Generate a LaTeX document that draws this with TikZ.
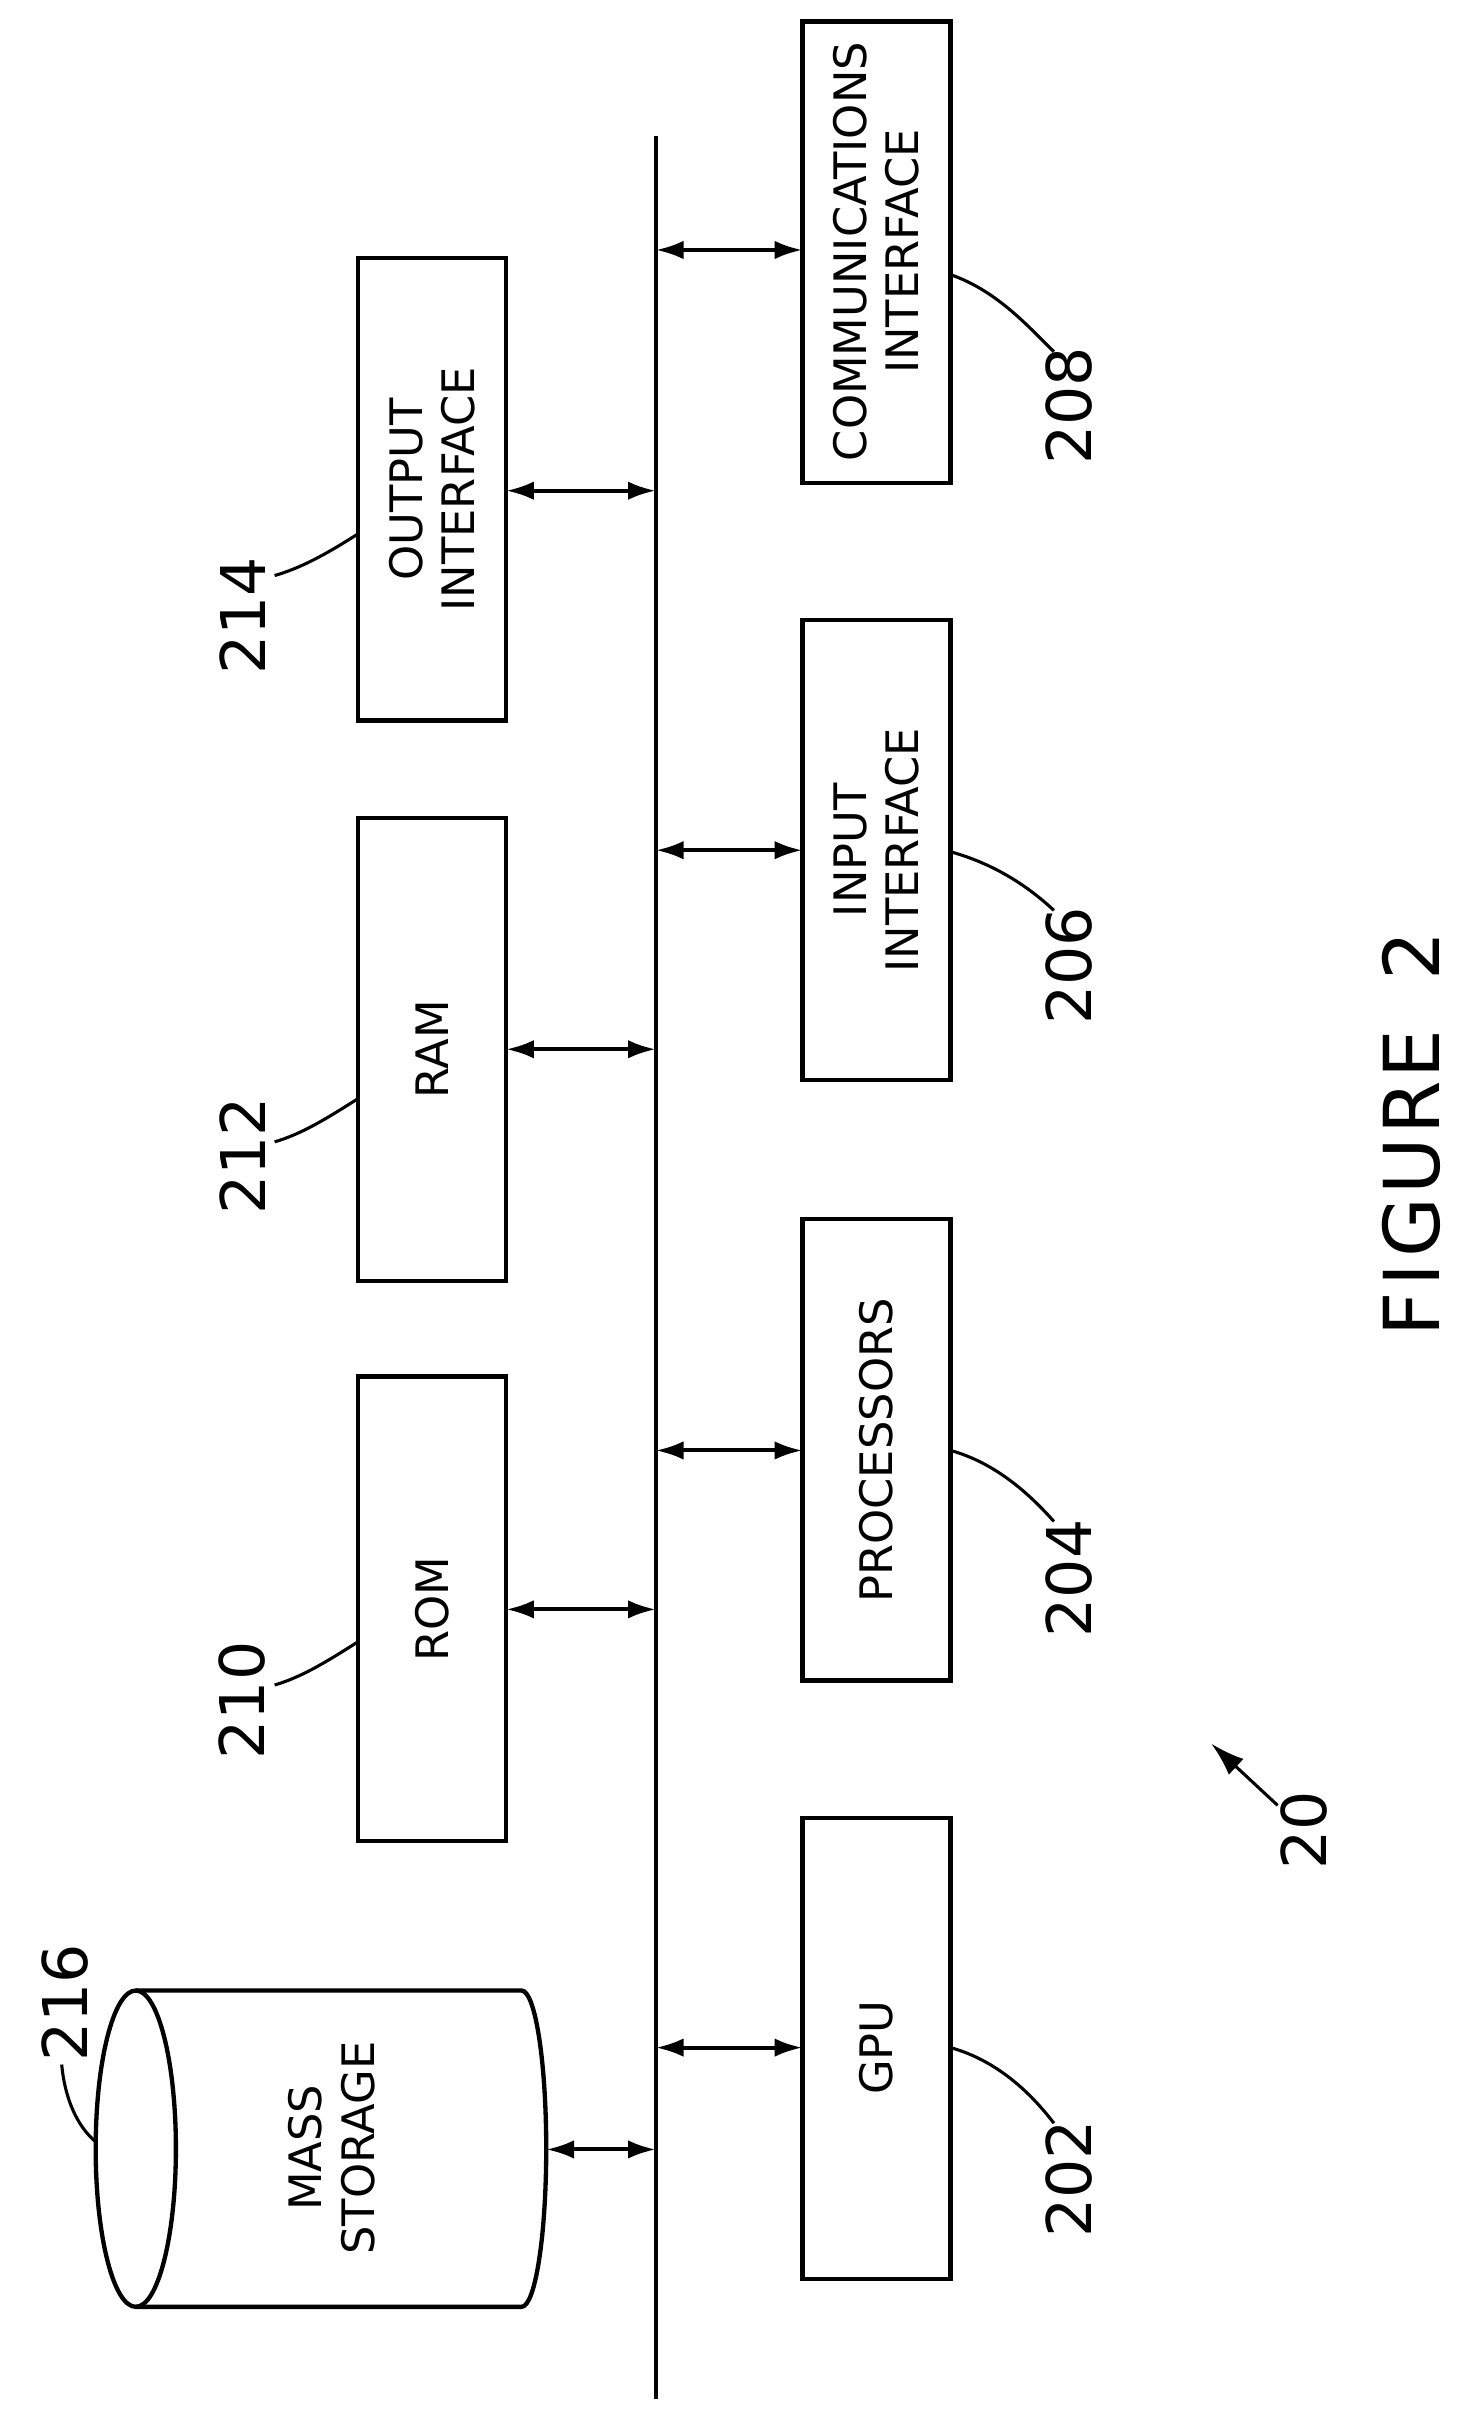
\documentclass[tikz,border=0pt]{standalone}
\usepackage{fontspec}
\setmainfont{DejaVu Sans}
\usetikzlibrary{arrows.meta}
\begin{document}
\begin{tikzpicture}[x=0.5pt,y=-0.5pt,line width=1.2pt,
 box/.style={draw,line width=1.4pt},
 lbl/.style={rotate=90,align=center,font=\fontsize{14.5}{17}\selectfont,inner sep=0pt},
 num/.style={rotate=90,font=\fontsize{20}{22}\selectfont,inner sep=0pt},
 link/.style={{Latex[length=9pt,width=6pt]}-{Latex[length=9pt,width=6pt]},line width=1.3pt},
 lead/.style={line width=1pt}]
\useasboundingbox (0,0) rectangle (945,1569);
% bus
\coordinate (bt) at (425,88); \coordinate (bb) at (425,1555);
\draw[line width=1.3pt] (bt) -- (bb);
% left boxes
\draw[box] (232,167) rectangle (328,467); \node[lbl] (out) at (280,317) {OUTPUT\\INTERFACE};
\draw[box] (232,530) rectangle (328,830); \node[lbl] (ram) at (280,680) {RAM};
\draw[box] (232,892) rectangle (328,1193); \node[lbl] (rom) at (280,1043) {ROM};
% right boxes
\draw[box] (520,14) rectangle (616,313); \node[lbl] (com) at (568,163) {COMMUNICATIONS\\INTERFACE};
\draw[box] (520,402) rectangle (616,700); \node[lbl] (inp) at (568,551) {INPUT\\INTERFACE};
\draw[box] (520,790) rectangle (616,1089); \node[lbl] (pro) at (568,940) {PROCESSORS};
\draw[box] (520,1178) rectangle (616,1477); \node[lbl] (gpu) at (568,1327) {GPU};
% cylinder
\draw[box] (88,1290) -- (338,1290) arc[start angle=-90,end angle=90,x radius=16,y radius=102.5] -- (88,1495);
\draw[box] (88,1392.5) ellipse[x radius=26,y radius=102.5];
\node[lbl] (ms) at (215,1392) {MASS\\STORAGE};
% arrows
\draw[link] (328,318) -- (425,318);
\draw[link] (328,680) -- (425,680);
\draw[link] (328,1043) -- (425,1043);
\draw[link] (354,1393) -- (425,1393);
\draw[link] (425,162) -- (520,162);
\draw[link] (425,551) -- (520,551);
\draw[link] (425,940) -- (520,940);
\draw[link] (425,1327) -- (520,1327);
% numbers
\node[num] (n214) at (157,399) {214};
\node[num] (n212) at (157,749) {212};
\node[num] (n210) at (157,1102) {210};
\node[num] (n208) at (693,263) {208};
\node[num] (n206) at (693,626) {206};
\node[num] (n204) at (693,1023) {204};
\node[num] (n202) at (693,1412) {202};
\node[num] (n216) at (42,1298) {216};
\node[num] (n20) at (845,1186) {20};
\draw[lead] (232,346) .. controls (210,360) and (195,368) .. (178,373);
\draw[lead] (232,712) .. controls (210,726) and (195,735) .. (178,740);
\draw[lead] (232,1064) .. controls (210,1078) and (195,1087) .. (178,1092);
\draw[lead] (616,178) .. controls (645,188) and (665,210) .. (683,228);
\draw[lead] (616,552) .. controls (645,560) and (667,575) .. (683,590);
\draw[lead] (616,940) .. controls (645,948) and (667,968) .. (683,986);
\draw[lead] (616,1327) .. controls (645,1335) and (667,1355) .. (683,1376);
\draw[lead] (40,1338) .. controls (42,1360) and (50,1378) .. (62,1388);
\draw[lead,-{Latex[length=11pt,width=7pt]}] (828,1170) -- (785,1130);
\node[rotate=90,font=\fontsize{25}{27}\selectfont,inner sep=0pt] (fig) at (915,735) {F\kern2pt I\kern2pt G\kern1pt U\kern1pt R\kern1pt E\ \ 2};
\end{tikzpicture}
\end{document}
